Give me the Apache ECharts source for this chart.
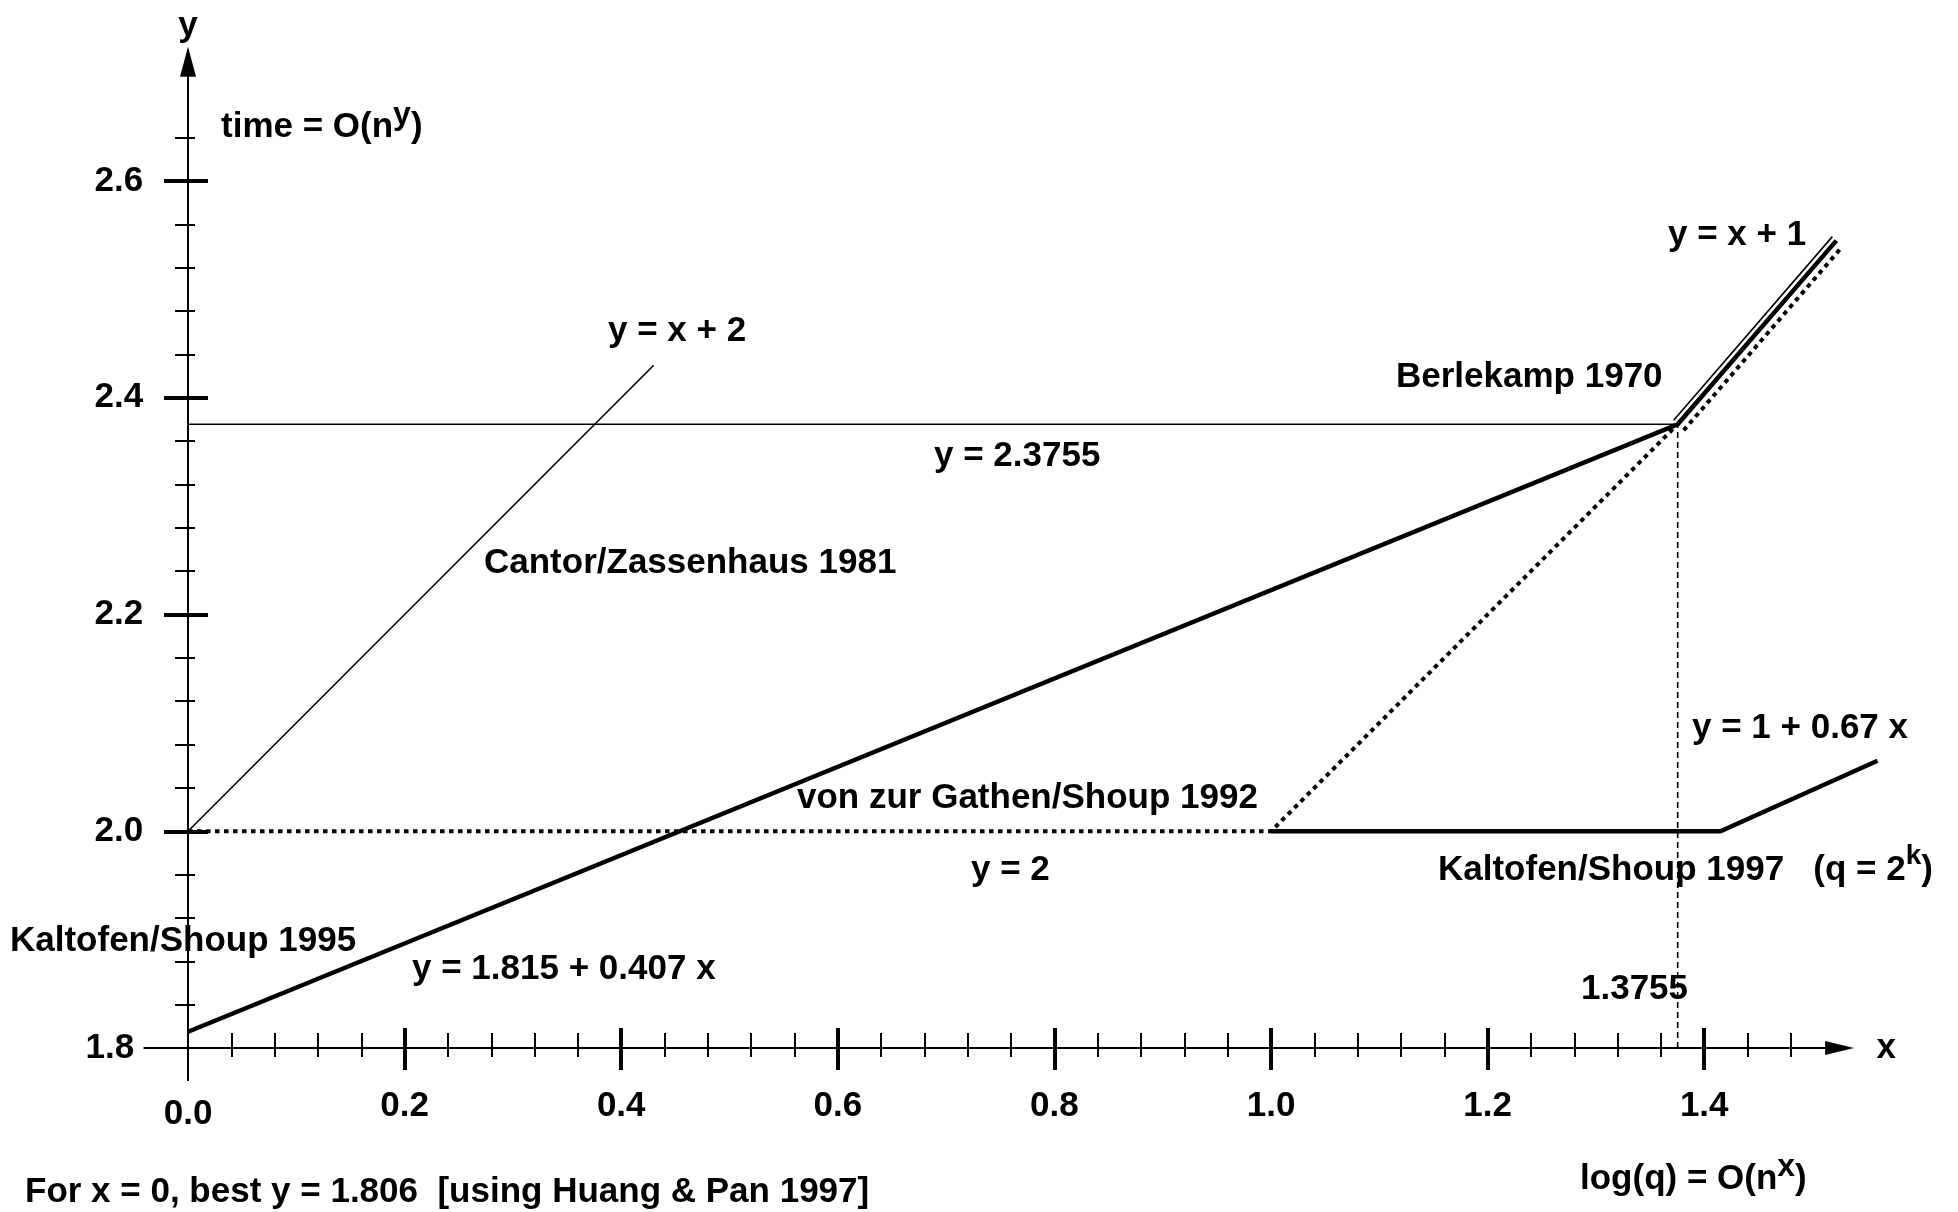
<!DOCTYPE html>
<html>
<head>
<meta charset="utf-8">
<script src="https://cdn.jsdelivr.net/npm/echarts@6/dist/echarts.min.js"></script>
<style>
html, body { margin: 0; padding: 0; background: #ffffff; }
#chart { width: 1958px; height: 1212px; }
</style>
</head>
<body>
<div id="chart"></div>
<script>
// ---------------- data ----------------
const xTickLabels = [0.0, 0.2, 0.4, 0.6, 0.8, 1.0, 1.2, 1.4];
const xMajorTicks = [0.2, 0.4, 0.6, 0.8, 1.0, 1.2, 1.4];
const xMinorTicks = [0.04, 0.08, 0.12, 0.16, 0.24, 0.28, 0.32, 0.36, 0.44, 0.48, 0.52, 0.56,
                     0.64, 0.68, 0.72, 0.76, 0.84, 0.88, 0.92, 0.96, 1.04, 1.08, 1.12, 1.16,
                     1.24, 1.28, 1.32, 1.36, 1.44, 1.48];
const yTickLabels = [1.8, 2.0, 2.2, 2.4, 2.6];
const yMajorTicks = [2.0, 2.2, 2.4, 2.6];
const yMinorTicks = [1.84, 1.88, 1.92, 1.96, 2.04, 2.08, 2.12, 2.16, 2.24, 2.28, 2.32, 2.36,
                     2.44, 2.48, 2.52, 2.56, 2.64];

// Cantor/Zassenhaus 1981: y = x + 2
const cantorZassenhaus1981 = [[0.0, 2.0], [0.43, 2.43]];
// Berlekamp 1970: y = 2.3755, then y = x + 1
const berlekamp1970 = [[0.0, 2.3755], [1.3755, 2.3755]];
const berlekamp1970Upper = [[1.3755, 2.3755], [1.522, 2.545]];
// Kaltofen/Shoup 1995: y = 1.815 + 0.407 x, then y = x + 1
const kaltofenShoup1995 = [[0.0, 1.815], [1.3755, 2.3755], [1.522, 2.545]];
// von zur Gathen/Shoup 1992: y = 2, then y = x + 1
const vonZurGathenShoup1992 = [[0.0, 2.0], [1.0, 2.0], [1.3755, 2.3755]];
const vonZurGathenShoup1992Upper = [[1.3755, 2.3755], [1.522, 2.545]];
// Kaltofen/Shoup 1997 (q = 2^k)
const kaltofenShoup1997 = [[1.0, 2.0], [1.415, 2.0], [1.56, 2.065]];
// crossover x = 1.3755
const crossoverLine = [[1.3755, 1.8], [1.3755, 2.3755]];
// y axis continuation below the x axis
const yAxisStub = [[0.0, 1.8], [0.0, 1.7696]];

// ---------------- styles ----------------
const FONT = '"Liberation Sans", Arial, Helvetica, sans-serif';
const FS = 35;
const black = '#000000';

function richMain() {
  return { fontSize: FS, fontWeight: 'bold', fontFamily: FONT, color: black, fill: black, lineHeight: 46, verticalAlign: 'bottom' };
}
function richSup(size, lh) {
  return { fontSize: size, fontWeight: 'bold', fontFamily: FONT, color: black, fill: black, lineHeight: lh, verticalAlign: 'top' };
}

function label(x, y, text, rich) {
  const st = {
    text: text, fill: black, fontSize: FS, fontWeight: 'bold', fontFamily: FONT,
    align: 'left', verticalAlign: 'middle'
  };
  if (rich) st.rich = rich;
  return { type: 'text', x: x, y: y, silent: true, z: 100, style: st };
}

// polyline drawn through the grid's scales, optionally shifted by a few pixels
// so that coincident segments stay visible side by side
function polySeries(data, dx, dy, width, dash, z) {
  return {
    type: 'custom',
    data: data,
    encode: { x: 0, y: 1 },
    silent: true,
    clip: false,
    z: z || 3,
    renderItem: function (params, api) {
      if (params.dataIndex !== 0) return null;
      const pts = data.map(function (p) {
        const c = api.coord(p);
        return [c[0] + dx, c[1] + dy];
      });
      return {
        type: 'polyline',
        shape: { points: pts },
        style: { stroke: black, lineWidth: width, fill: null, lineDash: dash || null, lineCap: 'butt', lineJoin: 'miter' }
      };
    }
  };
}

function lineSeries(data, width, type, z) {
  return {
    type: 'line', data: data, symbol: 'none', silent: true, clip: false, z: z || 3,
    lineStyle: { color: black, width: width, type: type || 'solid', cap: 'butt', join: 'miter' }
  };
}

const X_MIN = -0.04, X_MAX = 1.525, Y_MIN = 1.8, Y_MAX = 2.71;

function xAxisBase(extra) {
  return Object.assign({
    type: 'value', min: X_MIN, max: X_MAX, position: 'bottom', offset: 0,
    splitLine: { show: false },
    axisLine: { show: true, onZero: false, lineStyle: { color: black, width: 2 } },
    axisLabel: { show: false },
    axisTick: { show: false }
  }, extra);
}
function yAxisBase(extra) {
  return Object.assign({
    type: 'value', min: Y_MIN, max: Y_MAX, position: 'left', offset: 0,
    splitLine: { show: false },
    axisLine: { show: true, onZero: true, onZeroAxisIndex: 0, lineStyle: { color: black, width: 2 } },
    axisLabel: { show: false },
    axisTick: { show: false }
  }, extra);
}

const axisLabelText = { color: black, fontSize: FS, fontWeight: 'bold', fontFamily: FONT };

const option = {
  animation: false,
  backgroundColor: '#ffffff',
  grid: { left: 144.7, right: 118.4, top: 61.8, bottom: 164, containLabel: false, outerBoundsMode: 'none' },
  xAxis: [
    xAxisBase({
      name: 'x', nameLocation: 'end', nameGap: 37,
      nameTextStyle: axisLabelText,
      axisLine: { show: true, onZero: false, symbol: ['none', 'triangle'], symbolSize: [14, 29],
                  lineStyle: { color: black, width: 2 } },
      axisTick: { show: true, inside: false, length: 22, customValues: xMajorTicks,
                  lineStyle: { color: black, width: 4 } },
      axisLabel: Object.assign({
        show: true, customValues: xTickLabels, margin: 41,
        formatter: function (v) { return v === 0 ? '{z|0.0}' : v.toFixed(1); },
        rich: { z: Object.assign({}, axisLabelText, { padding: [8, 0, 0, 0] }) }
      }, axisLabelText)
    }),
    xAxisBase({ axisTick: { show: true, inside: true, length: 20, customValues: xMajorTicks,
                            lineStyle: { color: black, width: 4 } } }),
    xAxisBase({ axisTick: { show: true, inside: true, length: 15, customValues: xMinorTicks,
                            lineStyle: { color: black, width: 2 } } }),
    xAxisBase({ axisTick: { show: true, inside: false, length: 9, customValues: xMinorTicks,
                            lineStyle: { color: black, width: 2 } } })
  ],
  yAxis: [
    yAxisBase({
      name: 'y', nameLocation: 'end', nameGap: 18,
      nameTextStyle: axisLabelText,
      axisLine: { show: true, onZero: true, onZeroAxisIndex: 0, symbol: ['none', 'triangle'],
                  symbolSize: [16, 30], lineStyle: { color: black, width: 2 } },
      axisTick: { show: true, inside: false, length: 24, customValues: yMajorTicks,
                  lineStyle: { color: black, width: 4 } },
      axisLabel: Object.assign({
        show: true, customValues: yTickLabels, margin: 1.5,
        formatter: function (v) { return v === 1.8 ? '{e|1.8}' : v.toFixed(1); },
        rich: { e: Object.assign({}, axisLabelText, { padding: [0, 9, 0, 0] }) }
      }, axisLabelText)
    }),
    yAxisBase({ axisTick: { show: true, inside: true, length: 20, customValues: yMajorTicks,
                            lineStyle: { color: black, width: 4 } } }),
    yAxisBase({ axisTick: { show: true, inside: false, length: 13, customValues: yMinorTicks,
                            lineStyle: { color: black, width: 2 } } }),
    yAxisBase({ axisTick: { show: true, inside: true, length: 7, customValues: yMinorTicks,
                            lineStyle: { color: black, width: 2 } } })
  ],
  series: [
    lineSeries(yAxisStub, 2, 'solid', 2),
    lineSeries(cantorZassenhaus1981, 1.6),
    lineSeries(berlekamp1970, 1.6),
    polySeries(berlekamp1970Upper, -4, -4, 1.6),
    lineSeries(vonZurGathenShoup1992, 4, [4.5, 4.5]),
    polySeries(vonZurGathenShoup1992Upper, 6, 6, 4, [4.5, 4.5]),
    lineSeries(kaltofenShoup1995, 4.5, 'solid', 4),
    polySeries(kaltofenShoup1997, 0, 0, 4.5, null, 4),
    lineSeries(crossoverLine, 1.6, [6, 4])
  ],
  graphic: [
    label(221, 122, '{a|time = O(n}{s|y}{a|)}', { a: richMain(), s: richSup(32, 14) }),
    label(608, 331, 'y = x + 2'),
    label(1396, 377, 'Berlekamp 1970'),
    label(1668, 235, 'y = x + 1'),
    label(934, 456, 'y = 2.3755'),
    label(484, 563, 'Cantor/Zassenhaus 1981'),
    label(797, 798, 'von zur Gathen/Shoup 1992'),
    label(1692, 728, 'y = 1 + 0.67 x'),
    label(971, 870, 'y = 2'),
    label(1438, 865, '{a|Kaltofen/Shoup 1997   (q = 2}{s|k}{a|)}', { a: richMain(), s: richSup(28, 16) }),
    label(10, 941, 'Kaltofen/Shoup 1995'),
    label(412, 969, 'y = 1.815 + 0.407 x'),
    label(1581, 989, '1.3755'),
    label(1580, 1174, '{a|log(q) = O(n}{s|x}{a|)}', { a: richMain(), s: richSup(32, 20) }),
    label(25, 1192, 'For x = 0, best y = 1.806  [using Huang & Pan 1997]')
  ]
};

const chart = echarts.init(document.getElementById('chart'), null, { renderer: 'canvas' });
chart.setOption(option);
</script>
</body>
</html>
